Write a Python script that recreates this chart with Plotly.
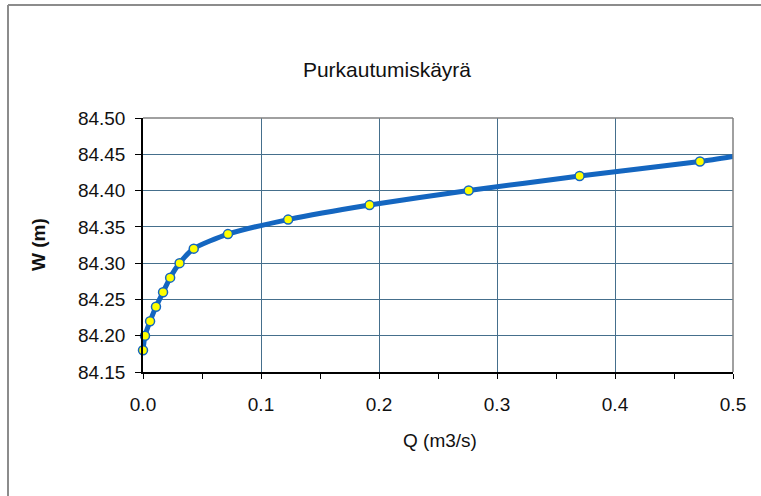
import plotly.graph_objects as go

# Measured points (discharge Q in m3/s, water level W in m)
Q = [0.000, 0.0017, 0.006, 0.011, 0.017, 0.023, 0.031, 0.043, 0.072, 0.123, 0.192, 0.276, 0.370, 0.472]
W = [84.18, 84.20, 84.22, 84.24, 84.26, 84.28, 84.30, 84.32, 84.34, 84.36, 84.38, 84.40, 84.42, 84.44]

# Rating curve drawn through the points, continuing to the axis end
Q_curve = Q + [0.5]
W_curve = W + [84.447]

x_ticks = [0.0, 0.1, 0.2, 0.3, 0.4, 0.5]
y_ticks = [84.15, 84.20, 84.25, 84.30, 84.35, 84.40, 84.45, 84.50]

title_text = "Purkautumiskäyrä"
x_title = "Q (m3/s)"
y_title = "<b>W (m)</b>"

FONT = "Liberation Sans, Arial, sans-serif"
GRID = "#456f8c"
BLUE = "#1466c0"
TXT = "#111111"

fig = go.Figure()
fig.add_trace(go.Scatter(
    x=Q_curve, y=W_curve, mode="lines",
    line=dict(color=BLUE, width=5, shape="spline", smoothing=0.6),
    hoverinfo="skip", showlegend=False,
))
fig.add_trace(go.Scatter(
    x=Q, y=W, mode="markers",
    marker=dict(color="#ffff00", size=9, line=dict(color=BLUE, width=1.5)),
    cliponaxis=False, showlegend=False,
))

fig.update_layout(
    width=761, height=496,
    margin=dict(l=143, r=28, t=118, b=124),
    paper_bgcolor="white", plot_bgcolor="white",
    font=dict(family=FONT, color=TXT, size=19),
    title=dict(text=title_text, x=0.5085, xanchor="center", y=1 - 70 / 496,
               yanchor="middle", yref="container",
               font=dict(family=FONT, size=21, color=TXT)),
    showlegend=False,
)
fig.update_xaxes(
    range=[0, 0.5], tickvals=x_ticks, tickformat=".1f",
    showgrid=True, gridcolor=GRID, gridwidth=1.2,
    showline=True, linecolor="black", linewidth=1.5,
    ticks="outside", ticklen=5, tickcolor="black", tickwidth=1,
    minor=dict(dtick=0.05, ticks="outside", ticklen=5, tickcolor="black", showgrid=False),
    ticklabelstandoff=9, zeroline=False,
    tickfont=dict(size=19, family=FONT, color=TXT),
)
fig.update_yaxes(
    range=[84.15, 84.50], tickvals=y_ticks, tickformat=".2f",
    showgrid=True, gridcolor=GRID, gridwidth=1.2,
    showline=True, linecolor="black", linewidth=1.5,
    ticks="outside", ticklen=6, tickcolor="black", tickwidth=1,
    zeroline=False, ticklabelstandoff=6,
    tickfont=dict(size=19, family=FONT, color=TXT),
)

# Plot-area border (top and right, gray)
fig.add_shape(type="line", xref="paper", yref="paper", x0=0, x1=1, y0=1, y1=1,
              line=dict(color="#808080", width=1.5), layer="above")
fig.add_shape(type="line", xref="paper", yref="paper", x0=1, x1=1, y0=0, y1=1,
              line=dict(color="#808080", width=1.5), layer="above")
# Chart frame (left and top edges visible)
fig.add_shape(type="line", xref="paper", yref="paper",
              x0=(8 - 143) / 590, x1=(8 - 143) / 590, y0=(372 - 5) / 254, y1=(372 - 500) / 254,
              line=dict(color="#8c8c8c", width=2))
fig.add_shape(type="line", xref="paper", yref="paper",
              x0=(8 - 143) / 590, x1=(770 - 143) / 590, y0=(372 - 5) / 254, y1=(372 - 5) / 254,
              line=dict(color="#8c8c8c", width=2))

# Axis titles
fig.add_annotation(text=y_title, xref="paper", yref="paper",
                   x=(38 - 143) / 590, y=(372 - 245) / 254, textangle=-90,
                   showarrow=False, xanchor="center", yanchor="middle",
                   font=dict(size=19, family=FONT, color=TXT))
fig.add_annotation(text=x_title, xref="paper", yref="paper",
                   x=(440 - 143) / 590, y=(372 - 440) / 254,
                   showarrow=False, xanchor="center", yanchor="middle",
                   font=dict(size=19, family=FONT, color=TXT))

fig.write_html("out.html", config={"displayModeBar": False},
               post_script="document.body.style.margin='0';document.body.style.overflow='hidden';")
